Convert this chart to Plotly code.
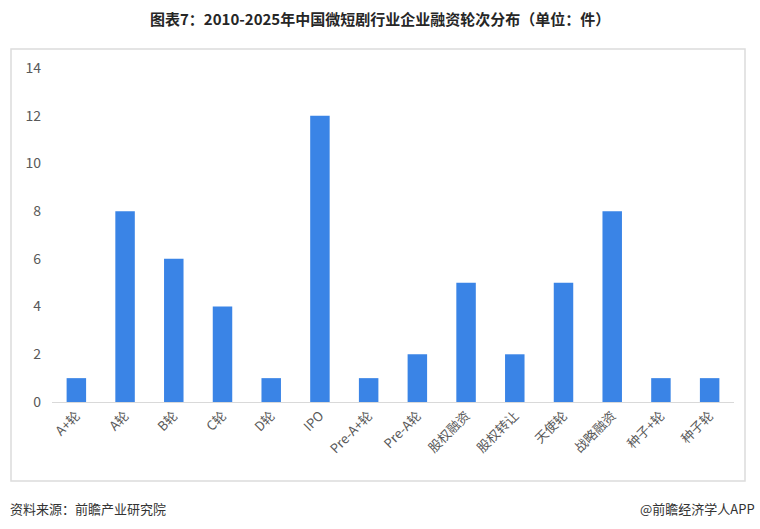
import plotly.graph_objects as go

categories = ["A+轮", "A轮", "B轮", "C轮", "D轮", "IPO", "Pre-A+轮", "Pre-A轮",
              "股权融资", "股权转让", "天使轮", "战略融资", "种子+轮", "种子轮"]
values = [1, 8, 6, 4, 1, 12, 1, 2, 5, 2, 5, 8, 1, 1]
y_ticks = [0, 2, 4, 6, 8, 10, 12, 14]

W, H = 760, 529
L, R, T, B = 52, 26, 68, 127

fig = go.Figure(go.Bar(
    x=categories, y=values,
    marker=dict(color="#3A84E6", line=dict(width=0)),
    width=0.4,
))

fig.update_layout(
    width=W, height=H,
    margin=dict(l=L, r=R, t=T, b=B),
    paper_bgcolor="white", plot_bgcolor="white",
    showlegend=False,
    font=dict(family="Noto Sans CJK SC, Microsoft YaHei, sans-serif", color="#595959"),
    xaxis=dict(
        tickangle=-45, tickfont=dict(size=13, color="#595959"),
        showline=True, linecolor="#D9D9D9", linewidth=1,
        showgrid=False, ticks="", range=[-0.5, 13.5],
    ),
    yaxis=dict(
        range=[0, 14], tickvals=y_ticks, tickfont=dict(size=14, color="#595959"),
        showgrid=False, zeroline=False, showline=False, ticks="",
        ticklabelstandoff=10,
    ),
    shapes=[
        dict(type="rect", xref="paper", yref="paper",
             x0=(11 - L) / (W - L - R), x1=(745 - L) / (W - L - R),
             y0=(H - B - 481) / (H - T - B), y1=(H - B - 49) / (H - T - B),
             line=dict(color="#DCDCDC", width=1.5), fillcolor="rgba(0,0,0,0)", layer="below"),
    ],
    annotations=[
        dict(text="<b>图表7：2010-2025年中国微短剧行业企业融资轮次分布（单位：件）</b>",
             xref="paper", yref="paper", x=(380 - L) / (W - L - R), y=(H - B - 18) / (H - T - B),
             xanchor="center", yanchor="middle", showarrow=False,
             font=dict(size=15, color="#262626")),
        dict(text="资料来源：前瞻产业研究院",
             xref="paper", yref="paper", x=(8 - L) / (W - L - R), y=(H - B - 508) / (H - T - B),
             xanchor="left", yanchor="middle", showarrow=False,
             font=dict(size=13, color="#333333")),
        dict(text="@前瞻经济学人APP",
             xref="paper", yref="paper", x=(757 - L) / (W - L - R), y=(H - B - 508) / (H - T - B),
             xanchor="right", yanchor="middle", showarrow=False,
             font=dict(size=13, color="#333333")),
    ],
)

fig.write_html("out.html")
